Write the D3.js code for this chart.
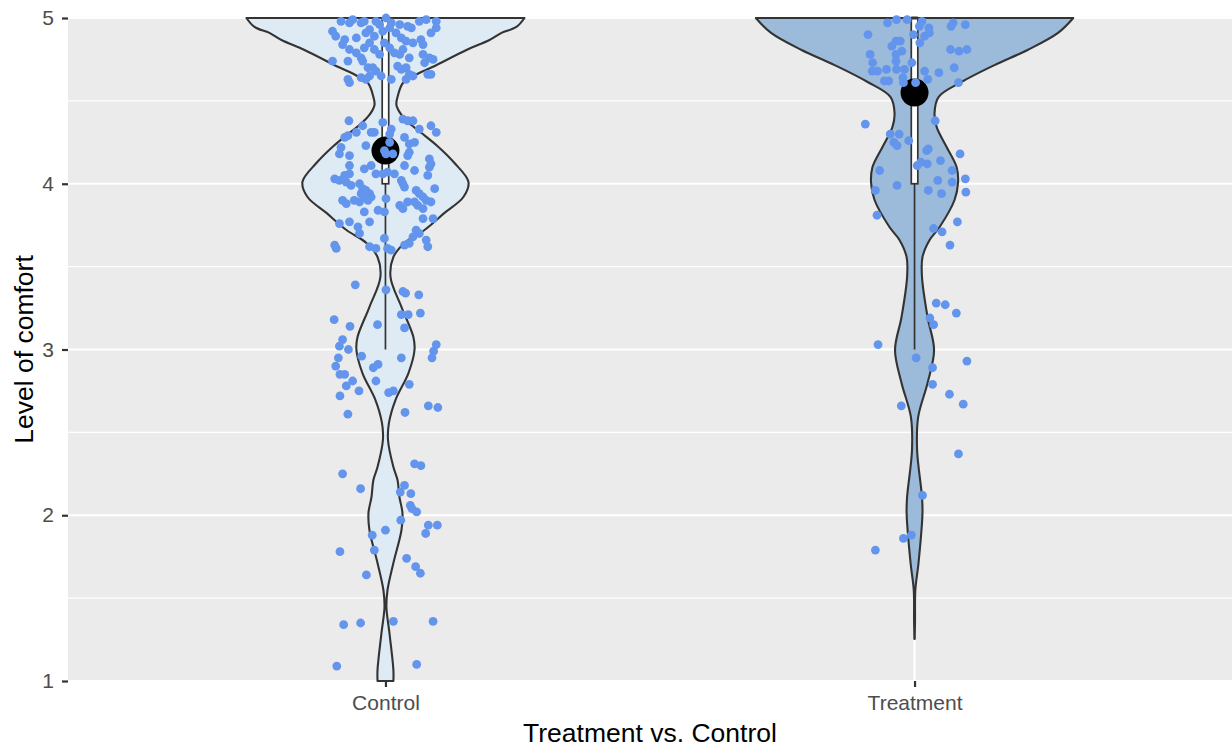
<!DOCTYPE html>
<html><head><meta charset="utf-8">
<script src="https://cdn.jsdelivr.net/npm/d3@7"></script>
<style>body{margin:0;background:#fff} text{font-family:"Liberation Sans", Arial, Helvetica, sans-serif}</style>
</head><body><svg id="chart" width="1232" height="749"></svg>
<script>
// ---------- data ----------
const categories = ["Control", "Treatment"];
const yTicks = [1, 2, 3, 4, 5];
const yMinor = [1.5, 2.5, 3.5, 4.5];
const means = [4.20, 4.55];
const boxQ1 = [4, 4];
const boxMedian = [5, 5];
const boxQ3 = [5, 5];
const whiskerLow = [3, 3];
const whiskerHigh = [5, 5];
// violin profiles: [value, relative density]
const controlViolin = [
 [5.000,0.876],[4.946,0.825],[4.910,0.731],[4.867,0.655],[4.807,0.510],[4.704,0.296],[4.656,0.189],
 [4.608,0.110],[4.523,0.076],[4.475,0.069],[4.415,0.101],[4.354,0.164],[4.306,0.227],[4.222,0.334],
 [4.125,0.435],[4.011,0.523],[3.920,0.491],[3.824,0.372],[3.721,0.246],[3.643,0.120],[3.558,0.050],
 [3.437,0.032],[3.256,0.101],[3.075,0.176],[2.997,0.183],[2.858,0.145],[2.695,0.063],[2.557,0.022],
 [2.454,0.016],[2.291,0.050],[2.213,0.076],[2.110,0.088],[2.014,0.107],[1.911,0.101],[1.712,0.050],
 [1.549,0.013],[1.446,0.006],[1.290,0.025],[1.067,0.050],[1.000,0.050]
];
const treatmentViolin = [
 [5.000,1.000],[4.910,0.904],[4.807,0.712],[4.716,0.504],[4.614,0.296],[4.523,0.151],[4.427,0.126],
 [4.343,0.139],[4.222,0.202],[4.101,0.265],[4.005,0.274],[3.902,0.252],[3.739,0.158],[3.661,0.095],
 [3.558,0.050],[3.437,0.047],[3.196,0.082],[2.997,0.123],[2.798,0.082],[2.593,0.023],[2.394,0.016],
 [2.110,0.047],[2.014,0.050],[1.712,0.025],[1.549,0.005],[1.368,0.003],[1.253,0.001]
];
// jittered points: [x offset (category steps), value]
const controlPoints = [
 [-0.084,4.98],[-0.068,4.97],[-0.062,4.99],[-0.046,4.97],[-0.040,4.98],[-0.018,4.98],[-0.011,4.96],[0.001,5.00],[0.011,4.97],[0.027,4.96],[0.042,4.95],[0.049,4.94],[0.064,4.98],[0.077,4.99],[0.096,4.98],[0.096,4.94],[0.086,4.91],
 [-0.100,4.92],[-0.094,4.89],[-0.077,4.87],[-0.055,4.88],[-0.037,4.91],[-0.030,4.93],[-0.021,4.89],[-0.005,4.92],[0.008,4.94],[0.020,4.91],[0.030,4.88],[0.039,4.86],[0.052,4.85],[0.067,4.87],[0.071,4.84],
 [-0.081,4.84],[-0.068,4.81],[-0.055,4.79],[-0.046,4.76],[-0.040,4.82],[-0.030,4.85],[-0.021,4.81],[-0.011,4.78],[-0.002,4.85],[0.008,4.82],[0.017,4.79],[0.027,4.78],[0.033,4.81],[0.045,4.76],[0.071,4.78],[0.083,4.76],[0.090,4.75],[0.074,4.73],
 [-0.100,4.74],[-0.071,4.74],[-0.043,4.74],[-0.033,4.70],[-0.024,4.70],[-0.018,4.68],[-0.008,4.65],[0.011,4.63],[0.023,4.71],[0.030,4.69],[0.039,4.70],[0.045,4.66],[0.052,4.65],[0.080,4.66],[0.086,4.66],
 [-0.071,4.63],[-0.068,4.61],[-0.046,4.64],[-0.037,4.63],[-0.030,4.65],[0.039,4.63],
 [-0.069,4.38],[-0.043,4.35],[-0.055,4.31],[-0.071,4.29],[-0.077,4.28],[-0.084,4.22],[-0.087,4.18],[-0.068,4.17],[-0.037,4.23],[-0.027,4.31],[-0.021,4.31],[-0.005,4.37],[0.011,4.33],[0.008,4.30],[0.033,4.39],[0.042,4.38],[0.052,4.38],[0.064,4.33],[0.086,4.35],[0.096,4.31],[0.036,4.28],[0.045,4.24],[0.055,4.25],[0.045,4.19],[0.042,4.17],[0.083,4.15],[0.086,4.12],[0.083,4.10],[0.080,4.05],
 [-0.002,4.20],[0.008,4.25],[0.001,4.18],[0.014,4.18],
 [-0.068,4.11],[-0.040,4.09],[-0.027,4.11],[-0.068,4.06],[-0.077,4.05],[-0.087,4.02],[-0.096,4.03],[-0.074,4.01],[-0.065,3.99],[-0.018,4.06],[-0.005,4.06],[0.004,4.07],[0.017,4.06],[0.036,4.11],[0.055,4.08],[0.030,4.02],[0.033,4.00],[0.036,3.98],
 [-0.049,4.00],[-0.043,3.97],[-0.037,3.96],[-0.030,3.94],[-0.046,3.94],[-0.040,3.92],[-0.027,3.92],[-0.081,3.90],[-0.074,3.88],[-0.059,3.90],[-0.049,3.89],[-0.033,3.90],[0.001,3.91],[0.027,3.87],[0.033,3.85],[0.042,3.89],[0.055,3.89],[0.061,3.87],[0.071,3.92],[0.077,3.90],[0.086,3.89],[0.093,3.97],[0.058,3.96],[0.064,3.94],[0.071,3.85],[0.071,3.79],[0.090,3.79],
 [-0.014,3.84],[-0.002,3.83],[-0.040,3.83],[-0.068,3.77],[-0.087,3.76],[-0.052,3.74],[-0.049,3.70],[-0.030,3.77],[0.058,3.72],[0.064,3.70],[0.052,3.68],[0.045,3.64],[0.036,3.63],[-0.002,3.67],[0.077,3.66],[0.080,3.62],[-0.096,3.63],[-0.093,3.61],[-0.030,3.62],[-0.018,3.61],[0.004,3.61],[0.011,3.60],
 [-0.057,3.39],[0.001,3.36],[0.033,3.35],[0.038,3.34],[0.063,3.33],[0.066,3.22],[0.030,3.21],[0.043,3.21],[0.036,3.13],[-0.015,3.15],[-0.097,3.18],[-0.067,3.14],[-0.081,3.06],[-0.087,3.02],[-0.070,3.00],[0.096,3.03],[0.091,2.99],[0.088,2.95],[-0.089,2.95],[-0.094,2.90],[-0.086,2.85],[-0.077,2.85],[-0.045,2.96],[0.030,2.95],[-0.023,2.89],[-0.014,2.91],[-0.018,2.81],[-0.062,2.81],[-0.074,2.78],[-0.050,2.75],[-0.086,2.72],[0.006,2.74],[0.015,2.75],[0.045,2.79],[-0.071,2.61],[0.037,2.62],[0.081,2.66],[0.099,2.65],
 [-0.081,2.25],[-0.047,2.16],[0.055,2.31],[0.067,2.30],[0.036,2.18],[0.028,2.14],[0.048,2.13],
 [0.047,2.06],[0.050,2.04],[0.059,2.02],[0.029,1.97],[0.081,1.94],[0.098,1.94],[0.076,1.89],[0.000,1.91],[-0.025,1.88],[-0.086,1.78],[-0.021,1.79],[0.040,1.74],[0.057,1.69],[0.066,1.65],[-0.036,1.64],
 [-0.079,1.34],[-0.047,1.35],[0.015,1.36],[0.090,1.36],[-0.092,1.09],[0.059,1.10]
];
const treatmentPoints = [
 [-0.051,4.97],[-0.034,4.99],[-0.014,4.99],[0.014,4.98],[0.009,4.95],[0.027,4.94],[0.028,4.91],[-0.002,4.90],[0.019,4.89],[0.010,4.85],[0.069,4.95],[0.073,4.97],[0.096,4.96],[-0.088,4.90],[-0.043,4.83],[-0.035,4.86],[-0.027,4.86],[-0.024,4.80],[-0.035,4.78],[-0.084,4.78],[-0.079,4.73],[-0.080,4.68],[-0.070,4.68],[-0.053,4.69],[-0.035,4.74],[-0.034,4.69],[-0.019,4.69],[-0.005,4.73],[-0.057,4.62],[-0.049,4.62],[-0.022,4.64],[-0.021,4.61],[0.019,4.68],[0.025,4.63],[0.002,4.61],[0.046,4.67],[0.068,4.81],[0.084,4.80],[0.099,4.81],[0.075,4.70],[0.083,4.61],
 [-0.093,4.36],[0.039,4.38],[-0.046,4.30],[-0.029,4.30],[-0.039,4.25],[-0.033,4.23],[-0.011,4.26],[0.023,4.20],[0.026,4.21],[0.086,4.18],[0.049,4.14],[0.005,4.11],[0.012,4.13],[0.024,4.12],[-0.066,4.08],[0.071,4.08],[0.096,4.03],[0.044,4.02],[-0.033,3.99],[0.071,4.01],[-0.074,3.96],[0.026,3.96],[0.051,3.94],[0.097,3.95],[-0.071,3.81],[0.081,3.77],[0.036,3.73],[0.052,3.71],[0.067,3.63],
 [0.041,3.28],[0.058,3.27],[0.079,3.22],[0.029,3.19],[0.036,3.15],[-0.069,3.03],[0.003,2.95],[0.099,2.93],[0.034,2.89],[0.034,2.79],[0.066,2.73],[0.092,2.67],[-0.025,2.66],[0.083,2.37],[0.015,2.12],
 [-0.021,1.86],[-0.006,1.88],[-0.074,1.79]
];
const violinFills = ["#deebf5", "#9cbad9"];
const xTitle = "Treatment vs. Control";
const yTitle = "Level of comfort";

// ---------- layout ----------
const panel = {left: 68, right: 1232, top: 18, bottom: 681};
const svg = d3.select("#chart");

const x = d3.scalePoint().domain(categories).range([panel.left, panel.right]).padding(0.6);
const y = d3.scaleLinear().domain([1, 5]).range([panel.bottom, panel.top]);
const step = x.step();
const halfW = d3.scaleLinear().domain([0, 1]).range([0, 0.3 * step]);

// panel background
svg.append("rect").attr("x", panel.left).attr("y", panel.top)
  .attr("width", panel.right - panel.left).attr("height", panel.bottom - panel.top)
  .attr("fill", "#ebebeb");

// grid
const grid = svg.append("g");
grid.selectAll(".minor").data(yMinor).join("line")
  .attr("x1", panel.left).attr("x2", panel.right)
  .attr("y1", d => y(d)).attr("y2", d => y(d))
  .attr("stroke", "#fff").attr("stroke-width", 1.1);
grid.selectAll(".major").data(yTicks).join("line")
  .attr("x1", panel.left).attr("x2", panel.right)
  .attr("y1", d => y(d)).attr("y2", d => y(d))
  .attr("stroke", "#fff").attr("stroke-width", 2.2);
grid.selectAll(".vmajor").data(categories).join("line")
  .attr("x1", d => x(d)).attr("x2", d => x(d))
  .attr("y1", panel.top).attr("y2", panel.bottom)
  .attr("stroke", "#fff").attr("stroke-width", 2.2);

// violins
const violins = [controlViolin, treatmentViolin];
categories.forEach((c, i) => {
  const cx = x(c);
  const area = d3.area()
    .curve(d3.curveCatmullRom.alpha(0.5))
    .y(d => y(d[0]))
    .x0(d => cx - halfW(d[1]))
    .x1(d => cx + halfW(d[1]));
  svg.append("path").datum(violins[i]).attr("d", area)
    .attr("fill", violinFills[i]).attr("stroke", "#333333")
    .attr("stroke-width", 2.1).attr("stroke-linejoin", "round");
});

// boxplots
const bw = 0.0123 * step;
categories.forEach((c, i) => {
  const cx = x(c);
  const g = svg.append("g").attr("stroke", "#333333").attr("stroke-width", 1.7);
  g.append("line").attr("x1", cx).attr("x2", cx).attr("y1", y(boxQ1[i])).attr("y2", y(whiskerLow[i]));
  g.append("line").attr("x1", cx).attr("x2", cx).attr("y1", y(boxQ3[i])).attr("y2", y(whiskerHigh[i]));
  g.append("rect").attr("x", cx - bw / 2).attr("width", bw)
    .attr("y", y(boxQ3[i])).attr("height", y(boxQ1[i]) - y(boxQ3[i]))
    .attr("fill", "#fff");
  g.append("line").attr("x1", cx - bw / 2).attr("x2", cx + bw / 2)
    .attr("y1", y(boxMedian[i])).attr("y2", y(boxMedian[i])).attr("stroke-width", 3);
});

// means
svg.selectAll(".mean").data(categories).join("circle")
  .attr("cx", d => x(d)).attr("cy", (d, i) => y(means[i])).attr("r", 14)
  .attr("fill", "#000");

// points
const pts = [controlPoints, treatmentPoints];
categories.forEach((c, i) => {
  svg.append("g").selectAll("circle").data(pts[i]).join("circle")
    .attr("cx", d => x(c) + d[0] * step)
    .attr("cy", d => y(d[1]))
    .attr("r", 4.4)
    .attr("fill", "#6495ed");
});

// axes
const yAxis = d3.axisLeft(y).tickValues(yTicks).tickFormat(d3.format("d")).tickSize(6).tickPadding(8);
const gy = svg.append("g").attr("transform", `translate(${panel.left},0)`).call(yAxis);
gy.select(".domain").remove();
gy.selectAll(".tick line").attr("stroke", "#333333").attr("stroke-width", 2.2);
gy.selectAll(".tick text").attr("fill", "#4d4d4d").style("font-size", "21px")
  .style("font-family", '"Liberation Sans", Arial, sans-serif');

const xAxis = d3.axisBottom(x).tickSize(6).tickPadding(8);
const gx = svg.append("g").attr("transform", `translate(0,${panel.bottom})`).call(xAxis);
gx.select(".domain").remove();
gx.selectAll(".tick line").attr("stroke", "#333333").attr("stroke-width", 2.2);
gx.selectAll(".tick text").attr("fill", "#4d4d4d").style("font-size", "21px")
  .style("font-family", '"Liberation Sans", Arial, sans-serif');

// titles
svg.append("text").attr("x", (panel.left + panel.right) / 2).attr("y", 742)
  .attr("text-anchor", "middle").style("font-size", "26.5px").attr("fill", "#000").text(xTitle);
svg.append("text").attr("transform", `translate(33,${(panel.top + panel.bottom) / 2}) rotate(-90)`)
  .attr("text-anchor", "middle").style("font-size", "26.5px").attr("fill", "#000").text(yTitle);
</script></body></html>
